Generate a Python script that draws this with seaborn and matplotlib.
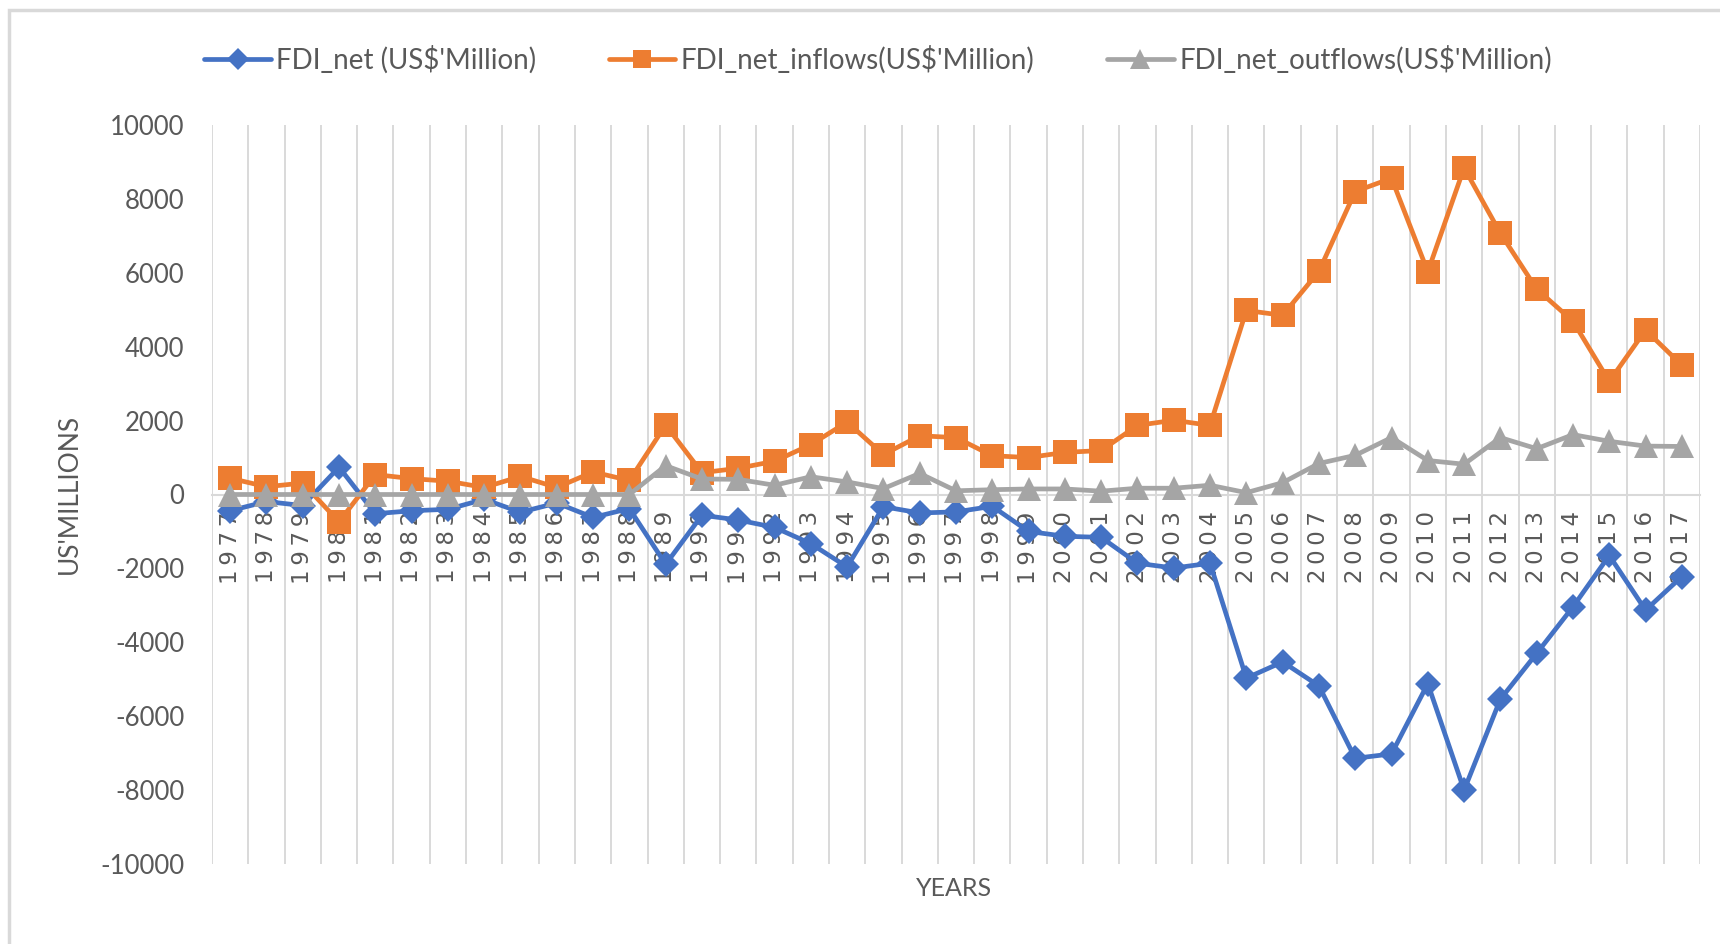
import matplotlib
matplotlib.use("Agg")
import matplotlib.pyplot as plt
from matplotlib.patches import Rectangle
import seaborn as sns

# ---- data (US$ million) ----
years = list(range(1977, 2018))

fdi_net = [-440, -190, -300, 740, -520, -440, -400, -130, -480, -230, -620, -380,
           -1890, -560, -690, -890, -1330, -1960, -330, -500, -470, -320, -1000,
           -1130, -1160, -1860, -1990, -1860, -4970, -4530, -5180, -7140, -7020,
           -5120, -8000, -5540, -4300, -3040, -1650, -3130, -2220]

fdi_inflows = [440, 210, 310, -740, 540, 430, 360, 190, 490, 190, 610, 380,
               1880, 590, 710, 900, 1350, 1960, 1080, 1590, 1540, 1050, 1000,
               1140, 1190, 1870, 2010, 1870, 4980, 4850, 6040, 8200, 8560,
               6030, 8840, 7070, 5560, 4690, 3060, 4450, 3500]

fdi_outflows = [0, 0, 0, 0, 0, 0, 0, 0, 0, 0, 0, 0,
                780, 420, 410, 250, 480, 340, 160, 570, 100, 130, 150,
                150, 90, 170, 170, 250, 50, 320, 840, 1060, 1540,
                920, 820, 1540, 1240, 1620, 1440, 1310, 1300]

series_labels = [r"FDI_net (US\$'Million)",
                 r"FDI_net_inflows(US\$'Million)",
                 r"FDI_net_outflows(US\$'Million)"]
y_ticks = list(range(-10000, 10001, 2000))
x_title = "YEARS"
y_title = "US'MILLIONS"

# ---- style ----
sns.set_style("white")
plt.rcParams["font.family"] = ["Lato", "DejaVu Sans"]
text_col = "#595959"
grid_col = "#D9D9D9"
colors = ["#4472C4", "#ED7D31", "#A5A5A5"]
markers = ["D", "s", "^"]
msizes = [13.5, 17, 17.5]

fig = plt.figure(figsize=(17.2, 9.44), dpi=100)
ax = fig.add_axes([212 / 1720, 1 - 864 / 944, 1488 / 1720, 739 / 944])

for vals, lab, col, mk, ms, z in zip([fdi_net, fdi_inflows, fdi_outflows],
                                     series_labels, colors, markers, msizes,
                                     [3, 4, 5]):
    sns.lineplot(x=years, y=vals, ax=ax, color=col, marker=mk, markersize=ms,
                 markeredgecolor=col, markeredgewidth=0, linewidth=3.4,
                 label=lab, zorder=z)

# zero line carries the category labels
for side in ["left", "right", "top"]:
    ax.spines[side].set_visible(False)
ax.spines["bottom"].set_position(("data", 0))
ax.spines["bottom"].set_color(grid_col)
ax.spines["bottom"].set_linewidth(1.5)
ax.spines["bottom"].set_zorder(1)

# axes limits and category grid
ax.set_xlim(years[0] - 0.5, years[-1] + 0.5)
ax.set_ylim(y_ticks[0], y_ticks[-1])
ax.set_xticks(years)
ax.set_xticks([y - 0.5 for y in years] + [years[-1] + 0.5], minor=True)
ax.tick_params(axis="x", which="both", length=0, pad=12)
ax.tick_params(axis="y", length=0, pad=20)
ax.set_xticklabels(["\u2009".join(str(y)) for y in years], rotation=90,
                   family=["DejaVu Sans"], fontsize=16.5, color=text_col)
ax.grid(False)
ax.grid(which="minor", axis="x", color=grid_col, linewidth=1.4, zorder=0)
ax.set_axisbelow(True)

ax.set_yticks(y_ticks)
ax.set_yticklabels([str(v) for v in y_ticks], fontsize=18.5, color=text_col)

ax.set_xlabel("")
ax.set_ylabel("")
fig.text(954 / 1720, 1 - 889 / 944, x_title, ha="center", va="center",
         fontsize=18, color=text_col)
fig.text(69 / 1720, 1 - 494 / 944, y_title, ha="center", va="center",
         rotation=90, fontsize=19, color=text_col)

# legend across the top
handles, labels = ax.get_legend_handles_labels()
if ax.legend_:
    ax.legend_.remove()
fig.legend(handles, labels, loc="center", ncol=3,
           bbox_to_anchor=(878 / 1720, 1 - 60 / 944), frameon=False,
           fontsize=20, labelcolor=text_col, handlelength=2.4,
           handletextpad=0.2, columnspacing=2.6, markerscale=0.8)

# chart frame
fig.patches.append(Rectangle((9 / 1720, -0.2), 1.2, 1.2 - 10 / 944,
                             transform=fig.transFigure, fill=False,
                             edgecolor=grid_col, linewidth=2.5, zorder=0))

fig.savefig("out.png", dpi=100, facecolor="white")
